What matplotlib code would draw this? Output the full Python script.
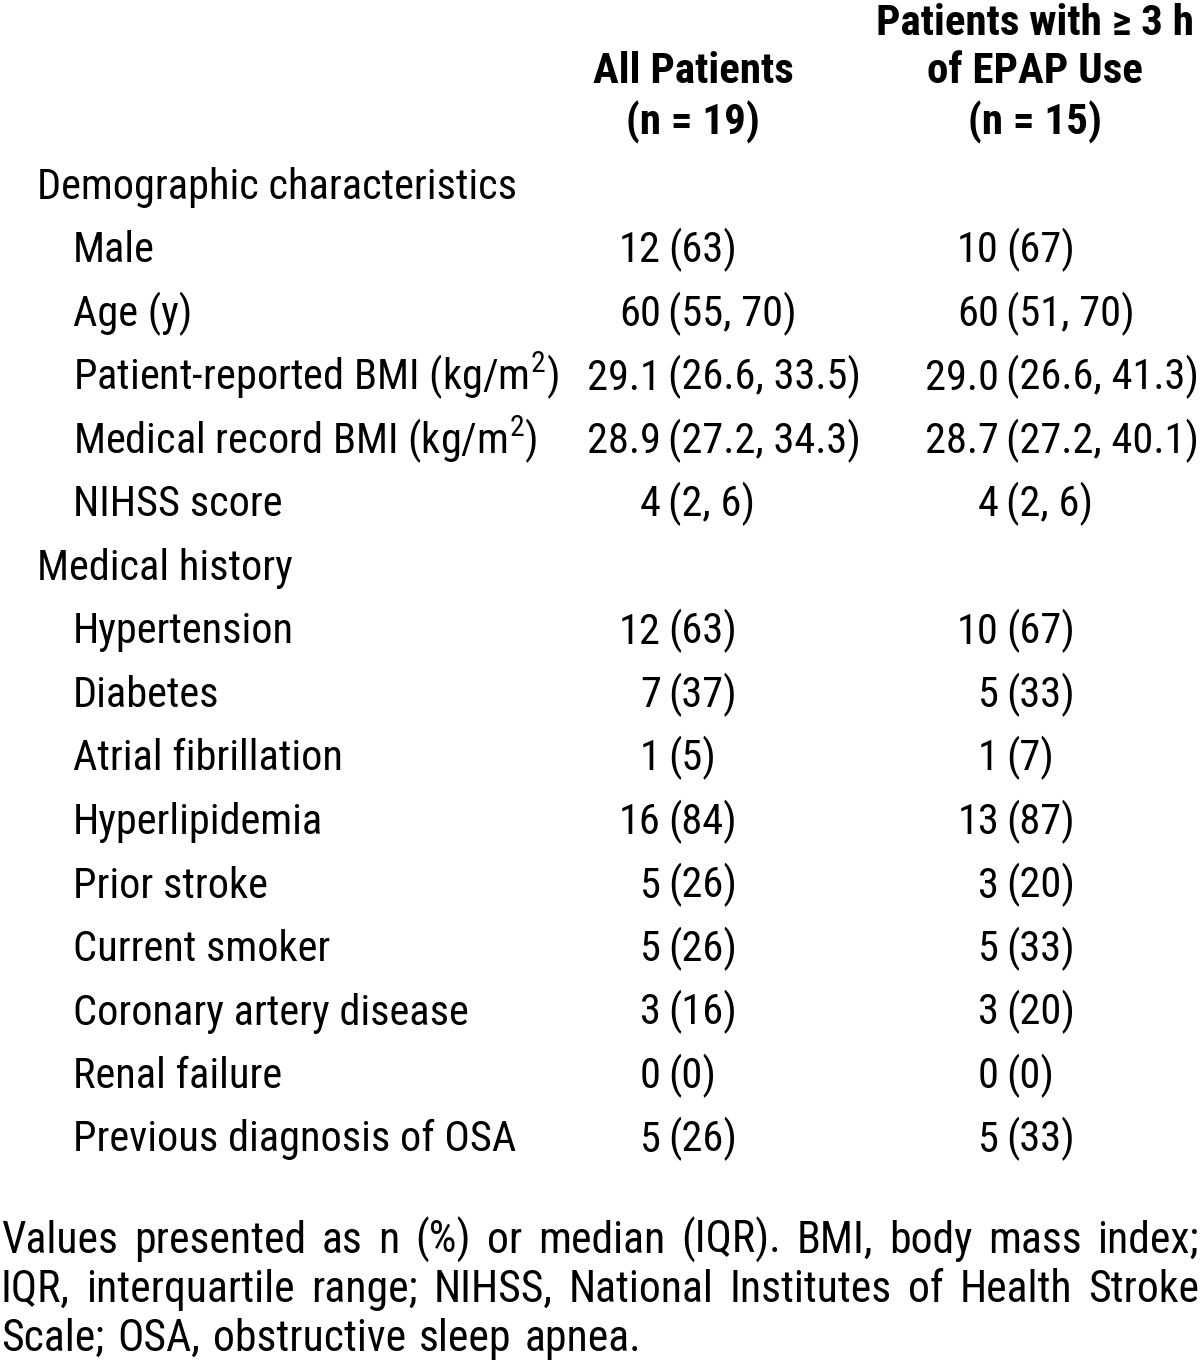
import matplotlib
matplotlib.use("Agg")
import matplotlib.pyplot as plt

FAM = ["Roboto Condensed", "DejaVu Sans"]
plt.rcParams["font.family"] = FAM
plt.rcParams["mathtext.fontset"] = "custom"
plt.rcParams["mathtext.rm"] = "Roboto Condensed"
plt.rcParams["mathtext.it"] = "Roboto Condensed"
plt.rcParams["mathtext.bf"] = "Roboto Condensed:bold"

# ---------------- data ----------------
header_all = ["All Patients", "(n = 19)"]
header_epap = ["Patients with \u2265 3 h", "of EPAP Use", "(n = 15)"]

row_labels = [
    "Demographic characteristics",
    "Male",
    "Age (y)",
    "Patient-reported BMI (kg/m$^2$)",
    "Medical record BMI (kg/m$^2$)",
    "NIHSS score",
    "Medical history",
    "Hypertension",
    "Diabetes",
    "Atrial fibrillation",
    "Hyperlipidemia",
    "Prior stroke",
    "Current smoker",
    "Coronary artery disease",
    "Renal failure",
    "Previous diagnosis of OSA",
]
is_section = [True, False, False, False, False, False, True,
              False, False, False, False, False, False, False, False, False]

all_values = ["", "12 (63)", "60 (55, 70)", "29.1 (26.6, 33.5)", "28.9 (27.2, 34.3)",
              "4 (2, 6)", "", "12 (63)", "7 (37)", "1 (5)", "16 (84)", "5 (26)",
              "5 (26)", "3 (16)", "0 (0)", "5 (26)"]
epap_values = ["", "10 (67)", "60 (51, 70)", "29.0 (26.6, 41.3)", "28.7 (27.2, 40.1)",
               "4 (2, 6)", "", "10 (67)", "5 (33)", "1 (7)", "13 (87)", "3 (20)",
               "5 (33)", "3 (20)", "0 (0)", "5 (33)"]

footnote_lines = [
    "Values presented as n (%) or median (IQR). BMI, body mass index;",
    "IQR, interquartile range; NIHSS, National Institutes of Health Stroke",
    "Scale; OSA, obstructive sleep apnea.",
]

# ---------------- layout ----------------
W, H = 1200, 1363
fig = plt.figure(figsize=(W / 100, H / 100), dpi=100)
FS = 30.5
FS_H = 31
FS_F = 31.5


def fx(x):
    return x / W


def fy(y):
    return 1 - y / H


# headers
hdr_base = [35, 83, 134]
fig.text(fx(693), fy(hdr_base[1]), header_all[0], ha="center", va="baseline",
         fontsize=FS_H, fontweight="bold")
fig.text(fx(693), fy(hdr_base[2]), header_all[1], ha="center", va="baseline",
         fontsize=FS_H, fontweight="bold")
for i, t in enumerate(header_epap):
    fig.text(fx(1035), fy(hdr_base[i]), t, ha="center", va="baseline",
             fontsize=FS_H, fontweight="bold")

# rows
base0, step = 199, 63.5
paren_x = [668, 1006]
gap = 7
for i, lab in enumerate(row_labels):
    yb = base0 + step * i
    x = 37 if is_section[i] else 73
    fig.text(fx(x), fy(yb), lab, ha="left", va="baseline", fontsize=FS)
    for col, vals in enumerate([all_values, epap_values]):
        v = vals[i]
        if not v:
            continue
        num, rest = v.split(" ", 1)
        fig.text(fx(paren_x[col] - gap), fy(yb), num, ha="right", va="baseline", fontsize=FS)
        fig.text(fx(paren_x[col]), fy(yb), rest, ha="left", va="baseline", fontsize=FS)

# justified footnote
renderer = fig.canvas.get_renderer()


def wwidth(w):
    t = fig.text(0, 0, w, fontsize=FS_F)
    bb = t.get_window_extent(renderer)
    t.remove()
    return bb.width


space_w = wwidth("a a") - wwidth("aa")
left, right = 1, 1199
maxw = right - left

foot_base = [1253, 1302, 1351]
for li, line in enumerate(footnote_lines):
    ln = line.split(" ")
    yb = foot_base[li]
    widths = [wwidth(w) for w in ln]
    last = li == len(footnote_lines) - 1
    if last:
        sp = space_w * 1.3
    else:
        sp = (maxw - sum(widths)) / (len(ln) - 1)
    x = left
    for w, ww in zip(ln, widths):
        fig.text(fx(x), fy(yb), w, ha="left", va="baseline", fontsize=FS_F)
        x += ww + sp

fig.savefig("out.png", dpi=100, facecolor="white")
